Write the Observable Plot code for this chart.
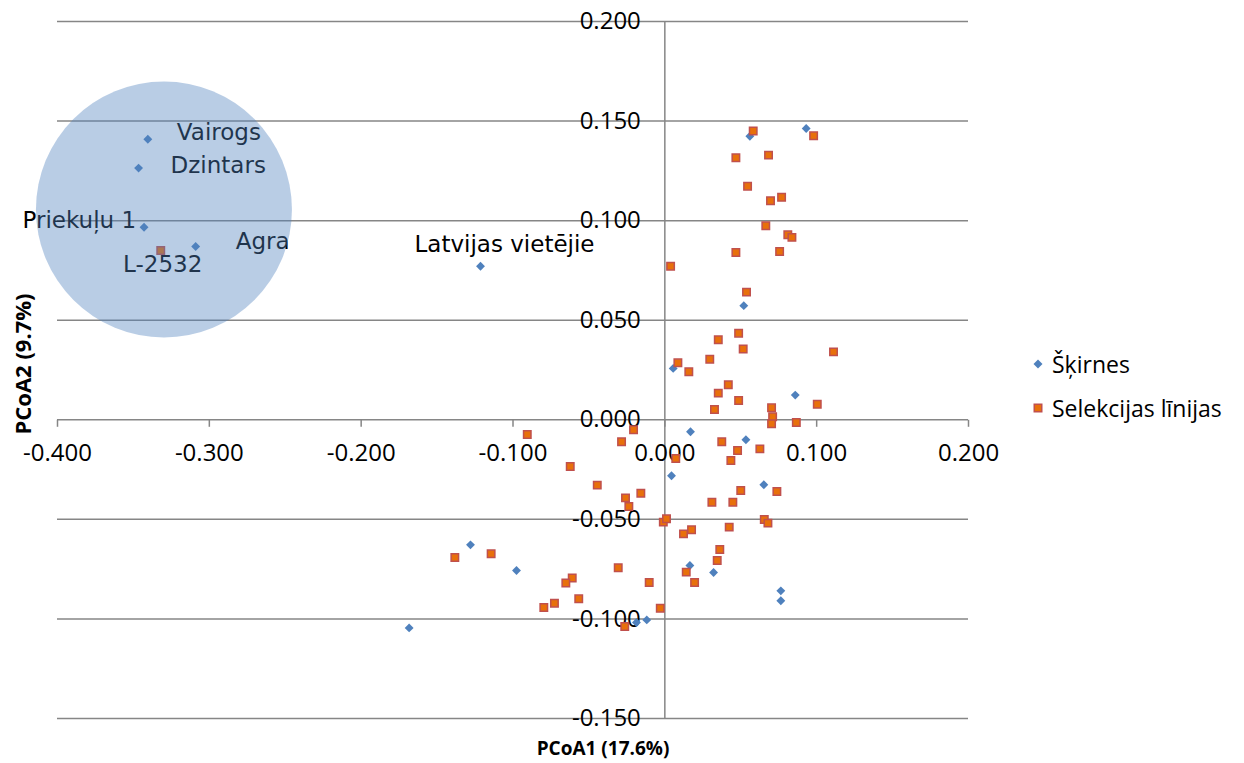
<!DOCTYPE html>
<html>
<head>
<meta charset="utf-8">
<script src="https://cdn.jsdelivr.net/npm/d3@7"></script>
<script src="https://cdn.jsdelivr.net/npm/@observablehq/plot@0.6"></script>
<style>
  body { margin: 0; background: #fff; }
  #wrap { position: relative; width: 1244px; height: 763px; }
  #legend { position: absolute; left: 1030px; top: 342px; font-family: "Open Sans", sans-serif; font-size: 23px; color: #000; }
  .item { display: flex; align-items: center; height: 44px; white-space: nowrap; }
  .item svg { margin-right: 6px; }
</style>
</head>
<body>
<div id="wrap"></div>
<script>
// ---- tick values ----
const xTicks = [-0.4, -0.3, -0.2, -0.1, 0, 0.1, 0.2];
const yTicks = [-0.15, -0.1, -0.05, 0, 0.05, 0.1, 0.15, 0.2];
const seriesNames = ["Šķirnes", "Selekcijas līnijas"];
const xTitle = "PCoA1 (17.6%)";
const yTitle = "PCoA2 (9.7%)";

// ---- series: Šķirnes (varieties) [PCoA1, PCoA2] ----
const skirnes = [
  [-0.3405, 0.1409], [-0.3466, 0.1264], [-0.3430, 0.0967], [-0.3090, 0.0870],
  [-0.1214, 0.0771], [0.0560, 0.1424], [0.0931, 0.1463], [0.0520, 0.0573],
  [0.0055, 0.0258], [0.0859, 0.0124], [0.0169, -0.0060], [0.0534, -0.0100],
  [0.0044, -0.0281], [0.0652, -0.0326], [-0.1280, -0.0628], [-0.0977, -0.0757],
  [-0.0187, -0.1018], [-0.0119, -0.1005], [0.0165, -0.0732], [0.0321, -0.0767],
  [0.0764, -0.0859], [0.0764, -0.0909], [-0.1684, -0.1045]
];

// ---- series: Selekcijas līnijas (breeding lines) [PCoA1, PCoA2] ----
const linijas = [
  [-0.3320, 0.0850], [0.0582, 0.1450], [0.0980, 0.1426], [0.0468, 0.1316],
  [0.0683, 0.1329], [0.0545, 0.1173], [0.0696, 0.1100], [0.0769, 0.1117],
  [0.0665, 0.0974], [0.0810, 0.0929], [0.0837, 0.0916], [0.0468, 0.0840],
  [0.0756, 0.0845], [0.0038, 0.0771], [0.0538, 0.0641], [0.0486, 0.0435],
  [0.0352, 0.0402], [0.0516, 0.0355], [0.1111, 0.0341], [0.0296, 0.0304],
  [0.0086, 0.0286], [0.0158, 0.0241], [0.0418, 0.0176], [0.0352, 0.0134],
  [0.0486, 0.0097], [0.1004, 0.0078], [0.0327, 0.0052], [0.0703, 0.0060],
  [0.0710, 0.0015], [0.0703, -0.0020], [0.0866, -0.0014], [0.0375, -0.0110],
  [0.0479, -0.0154], [0.0626, -0.0146], [-0.0206, -0.0050], [-0.0285, -0.0110],
  [0.0072, -0.0194], [0.0435, -0.0204], [-0.0623, -0.0235], [-0.0445, -0.0328],
  [0.0500, -0.0355], [0.0738, -0.0360], [-0.0259, -0.0392], [-0.0158, -0.0369],
  [-0.0237, -0.0435], [0.0310, -0.0414], [0.0448, -0.0414], [-0.0010, -0.0514],
  [0.0011, -0.0497], [0.0655, -0.0501], [0.0679, -0.0519], [0.0123, -0.0573],
  [0.0176, -0.0552], [0.0424, -0.0539], [-0.1383, -0.0692], [-0.1144, -0.0673],
  [-0.0307, -0.0743], [-0.0610, -0.0794], [-0.0652, -0.0820], [-0.0103, -0.0817],
  [-0.0567, -0.0899], [-0.0727, -0.0921], [-0.0797, -0.0943], [-0.0030, -0.0946],
  [-0.0264, -0.1038], [0.0141, -0.0765], [0.0196, -0.0817], [0.0362, -0.0651],
  [0.0345, -0.0707], [-0.0906, -0.0074]
];

// ---- named points ----
const labelNames = ["Vairogs", "Dzintars", "Priekuļu 1", "Agra", "Latvijas vietējie", "L-2532"];
const labelPoints = [skirnes[0], skirnes[1], skirnes[2], skirnes[3], skirnes[4], linijas[0]];

// ---- highlighted group centre ----
const highlightCentre = [[-0.3299, 0.1056]];

// ---- label placement (pixels, style only) ----
const labelStyle = [
  {dx: 29, dy: -7, anchor: "start"},
  {dx: 32, dy: -2, anchor: "start"},
  {dx: -8, dy: -7, anchor: "end"},
  {dx: 40, dy: -5, anchor: "start"},
  {dx: 24, dy: -22, anchor: "middle"},
  {dx: 2, dy: 14, anchor: "middle"}
];

const gray = "#868686";
const blue = "#4f81bd";
const orange = "#e8700a";
const orangeStroke = "#c0504d";
const fmt = d => d.toFixed(3);
const tickSymbol = { draw(ctx) { ctx.moveTo(0, 0); ctx.lineTo(0, 7); } };

const labelData = labelNames.map((name, i) => ({name, x: labelPoints[i][0], y: labelPoints[i][1]}));

const labelMarks = labelData.map((d, i) => Plot.text([d], {
  x: "x", y: "y", text: "name",
  dx: labelStyle[i].dx, dy: labelStyle[i].dy, textAnchor: labelStyle[i].anchor,
  fontFamily: "DejaVu Sans", fontSize: 23, fill: "#000"
}));

const chart = Plot.plot({
  width: 1244,
  height: 763,
  marginLeft: 57,
  marginRight: 276,
  marginTop: 21,
  marginBottom: 45,
  x: {domain: [-0.4, 0.2], axis: null},
  y: {domain: [-0.15, 0.2], axis: null},
  style: {background: "#fff", overflow: "visible"},
  marks: [
    Plot.ruleY(yTicks, {y: d => d, stroke: gray, strokeWidth: 1.5}),
    Plot.ruleX([0], {x: d => d, stroke: gray, strokeWidth: 1.5}),
    Plot.dot(xTicks, {x: d => d, y: 0, symbol: tickSymbol, stroke: gray, strokeWidth: 1.5, fill: "none"}),
    Plot.text(yTicks, {x: 0, y: d => d, text: fmt, textAnchor: "end", dx: -24,
      fontFamily: "Open Sans", fontSize: 24, fill: "#000"}),
    Plot.text(xTicks, {x: d => d, y: 0, text: fmt, dy: 34,
      fontFamily: "Open Sans", fontSize: 24, fill: "#000"}),
    Plot.dot(skirnes, {x: d => d[0], y: d => d[1], symbol: "diamond2", r: 4, fill: blue, stroke: "none"}),
    Plot.dot(linijas, {x: d => d[0], y: d => d[1], symbol: "square", r: 4.2, fill: orange, stroke: orangeStroke, strokeWidth: 1.5}),
    ...labelMarks,
    Plot.dot(highlightCentre, {x: d => d[0], y: d => d[1], r: 128, fill: blue, fillOpacity: 0.4, stroke: "none"}),
    Plot.text([xTitle], {frameAnchor: "bottom", text: d => d, dy: 30, dx: 90,
      textAnchor: "middle", lineAnchor: "middle",
      fontFamily: "Open Sans", fontWeight: "bold", fontSize: 19, fill: "#000"}),
    Plot.text([yTitle], {frameAnchor: "left", text: d => d, rotate: -90, dx: -34, dy: -6,
      textAnchor: "middle", lineAnchor: "middle",
      fontFamily: "Open Sans", fontWeight: "bold", fontSize: 22, fill: "#000"})
  ]
});

const wrap = document.getElementById("wrap");
wrap.appendChild(chart);

// legend
const legend = document.createElement("div");
legend.id = "legend";
const sym = [
  `<svg width="16" height="16"><path d="M8,3.5L12.5,8L8,12.5L3.5,8Z" fill="${blue}"/></svg>`,
  `<svg width="16" height="16"><rect x="4.25" y="4.25" width="7.5" height="7.5" fill="${orange}" stroke="${orangeStroke}" stroke-width="1.5"/></svg>`
];
seriesNames.forEach((n, i) => {
  const item = document.createElement("div");
  item.className = "item";
  item.innerHTML = sym[i] + `<span>${n}</span>`;
  legend.appendChild(item);
});
wrap.appendChild(legend);
</script>
</body>
</html>
